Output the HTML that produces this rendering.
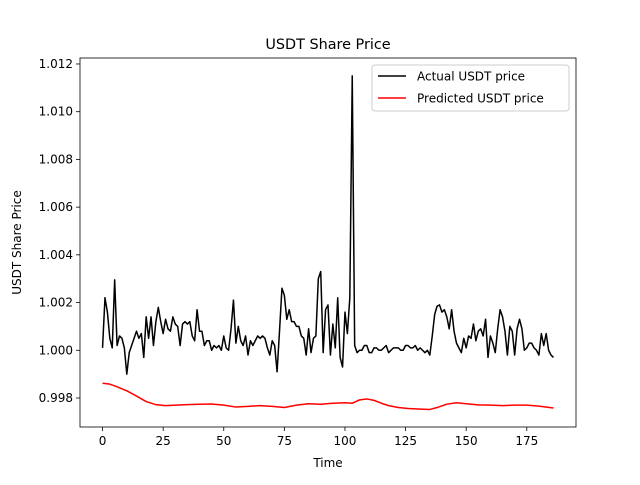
<!DOCTYPE html>
<html><head><meta charset="utf-8"><style>
body{margin:0;background:#fff;}
svg text{font-family:"DejaVu Sans","Liberation Sans",sans-serif;}
</style></head><body>
<svg id="chart" width="640" height="480" xmlns="http://www.w3.org/2000/svg">
<rect width="640" height="480" fill="#fff"/>
<g id="plot"></g>
</svg>
<script>
const actualDev = [0.1,2.2,1.6,0.5,0.1,2.95,0.2,0.6,0.5,0.1,-1.0,-0.1,0.2,0.5,0.8,0.5,0.7,-0.3,1.4,0.5,1.4,0.2,1.2,1.8,1.2,0.7,1.3,0.9,0.8,1.4,1.1,1.0,0.2,1.1,1.2,1.1,1.2,0.6,0.4,1.7,0.8,0.8,0.2,0.4,0.4,0.0,0.2,0.1,0.2,0.0,0.6,0.1,0.0,0.9,2.1,0.3,1.0,0.4,0.2,0.6,-0.2,0.4,0.2,0.4,0.6,0.5,0.6,0.5,0.1,-0.2,0.4,0.2,-0.9,0.8,2.6,2.3,1.3,1.7,1.2,1.2,1.0,1.0,0.6,0.5,-0.2,0.9,-0.1,0.5,0.6,3.0,3.3,-0.1,1.7,1.9,-0.2,1.1,0.1,2.2,-0.3,-0.7,1.6,0.7,2.2,11.5,0.2,-0.1,0.0,0.0,0.2,0.2,-0.1,-0.1,0.1,0.1,0.0,0.0,0.1,0.2,-0.1,0.0,0.1,0.1,0.1,0.0,0.0,0.2,0.2,0.1,0.1,0.2,0.0,0.1,0.0,-0.1,0.0,-0.2,0.6,1.5,1.85,1.9,1.6,1.7,1.4,0.9,1.7,0.8,0.3,0.1,-0.1,0.5,0.1,0.6,0.5,1.1,0.4,0.8,0.9,0.6,1.3,-0.3,0.6,0.3,-0.1,0.9,1.7,1.4,0.8,-0.2,1.0,0.8,-0.2,0.9,1.3,0.9,0.0,0.1,0.3,0.3,0.1,0.0,-0.2,0.7,0.2,0.7,0.0,-0.2,-0.3];
const predX = [0,3,6,10,14,18,22,26,30,35,40,45,50,55,60,65,70,75,80,85,90,95,100,103,106,109,112,115,118,122,126,130,135,138,142,146,150,155,160,165,170,175,180,186];
const predY = [0.99862,0.99858,0.99847,0.99830,0.99808,0.99785,0.99772,0.99768,0.99770,0.99772,0.99774,0.99775,0.99770,0.99762,0.99765,0.99768,0.99765,0.99760,0.99770,0.99776,0.99774,0.99778,0.99780,0.99778,0.99792,0.99796,0.99790,0.99778,0.99768,0.99760,0.99756,0.99754,0.99752,0.99760,0.99774,0.99780,0.99776,0.99771,0.99770,0.99768,0.99770,0.99770,0.99766,0.99758];
const xTicks = [0,25,50,75,100,125,150,175];
const yTicks = [0.998,1.000,1.002,1.004,1.006,1.008,1.010,1.012];
const actualY = actualDev.map(d => 1 + d/1000);

const L=80,R=576,T=58,B=427;
const xMin=-9.3,xMax=195.3,yMin=0.996784,yMax=1.012251;
const sx=v=>L+(v-xMin)/(xMax-xMin)*(R-L);
const sy=v=>B-(v-yMin)/(yMax-yMin)*(B-T);
const NS="http://www.w3.org/2000/svg";
const g=document.getElementById('plot');
function mk(tag,attrs,txt){const e=document.createElementNS(NS,tag);for(const k in attrs)e.setAttribute(k,attrs[k]);if(txt!==undefined)e.textContent=txt;g.appendChild(e);return e;}

xTicks.forEach(t=>{
  const l=mk('line',{x1:sx(t),x2:sx(t),y1:B,y2:B+4,stroke:'#000','stroke-width':0.8});
  
  
  const tx=mk('text',{x:sx(t),y:B+18,'font-size':'12','text-anchor':'middle'},String(t));
  
  
});
yTicks.forEach(t=>{
  const l=mk('line',{x1:L-4,x2:L,y1:sy(t),y2:sy(t),stroke:'#000','stroke-width':0.8});
  
  
  const tx=mk('text',{x:L-7,y:sy(t)+4,'font-size':'12','text-anchor':'end'},t.toFixed(3));
  
  
});

const pa=mk('polyline',{points:actualY.map((v,i)=>sx(i)+','+sy(v)).join(' '),fill:'none',stroke:'#000','stroke-width':1.5,'stroke-linejoin':'round'});


const pp=mk('polyline',{points:predY.map((v,i)=>sx(predX[i])+','+sy(v)).join(' '),fill:'none',stroke:'#f00','stroke-width':1.5,'stroke-linejoin':'round'});



const fr=mk('rect',{x:L,y:T,width:R-L,height:B-T,fill:'none',stroke:'#000','stroke-width':0.8});



const ti=mk('text',{x:(L+R)/2,y:T-9,'font-size':'14.4','text-anchor':'middle'},'USDT Share Price');


const xl=mk('text',{x:(L+R)/2,y:467,'font-size':'12','text-anchor':'middle'},'Time');


const yl=mk('text',{x:0,y:0,'font-size':'12','text-anchor':'middle',transform:'translate(21,'+((T+B)/2)+') rotate(-90)'},'USDT Share Price');



const lb=mk('rect',{x:372,y:65,width:197,height:46,rx:3,fill:'#fff','fill-opacity':0.8,stroke:'#ccc','stroke-width':1});


const l1=mk('line',{x1:378,x2:406,y1:76,y2:76,stroke:'#000','stroke-width':1.5});


const t1=mk('text',{x:417,y:80.5,'font-size':'12'},'Actual USDT price');


const l2=mk('line',{x1:378,x2:406,y1:98,y2:98,stroke:'#f00','stroke-width':1.5});


const t2=mk('text',{x:417,y:102.5,'font-size':'12'},'Predicted USDT price');


</script>
</body></html>
